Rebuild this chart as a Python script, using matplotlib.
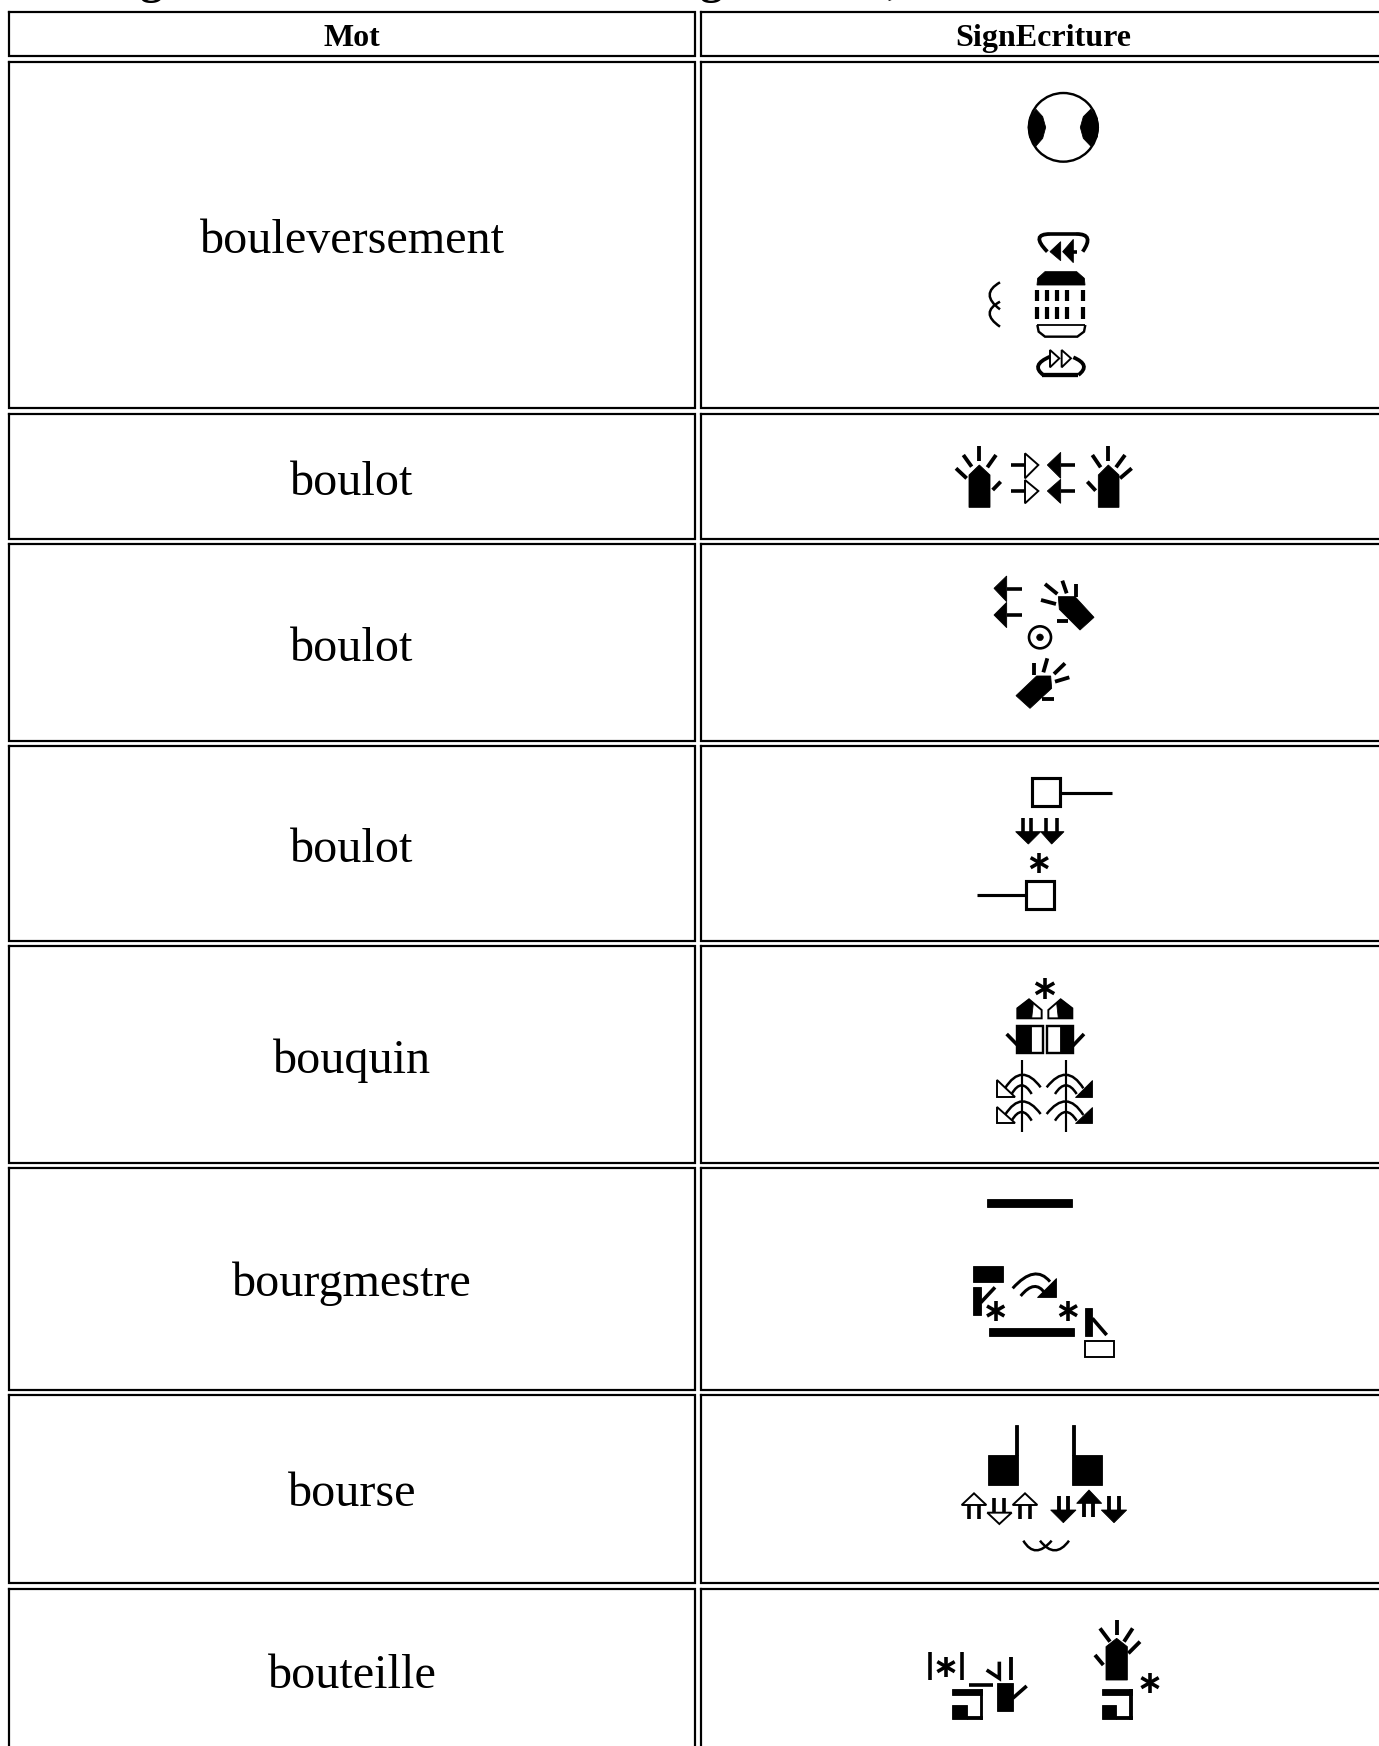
import matplotlib
matplotlib.use('Agg')
import numpy as np
import matplotlib.pyplot as plt
from matplotlib.patches import Polygon, Circle, PathPatch
from matplotlib.path import Path

W, H = 1379, 1746

# table
words = ['bouleversement', 'boulot', 'boulot', 'boulot', 'bouquin', 'bourgmestre', 'bourse', 'bouteille']
headers = ['Mot', 'SignEcriture']
row_tops = [12, 62, 414, 544, 746, 946, 1168, 1395, 1589]
row_bots = [56, 408, 539, 741, 941, 1163, 1390, 1583, 1760]
col_lefts = [9, 701]
col_rights = [695, 1400]
word_base = [253, 495, 661, 862, 1073, 1296, 1506, 1688]

fig = plt.figure(figsize=(W / 100, H / 100), dpi=100)
ax = fig.add_axes([0, 0, 1, 1])
ax.set_xlim(0, W)
ax.set_ylim(H, 0)
ax.axis('off')


# coordinates below are in zoomed crop units (3x) from origin o
def pts_px(o, pts):
    return [(o[0] + x / 3, o[1] + y / 3) for x, y in pts]


def line(o, pts, lw=3.2):
    p = pts_px(o, pts)
    ax.plot([a[0] for a in p], [a[1] for a in p], color='k', lw=lw * 0.72 * 1.2,
            solid_capstyle='butt', solid_joinstyle='miter')


def fill(o, pts):
    ax.add_patch(Polygon(pts_px(o, pts), closed=True, fc='k', ec='k', lw=0.6))


def hollow(o, pts, lw=1.6):
    ax.add_patch(Polygon(pts_px(o, pts), closed=True, fc='w', ec='k', lw=lw * 0.72 * 1.2))


def box(o, x0, y0, x1, y1, filled=True, lw=1.6):
    p = [(x0, y0), (x1, y0), (x1, y1), (x0, y1)]
    if filled:
        fill(o, p)
    else:
        hollow(o, p, lw)


def curve(o, a, c, b, lw=2.0):
    path = Path(pts_px(o, [a, c, b]), [Path.MOVETO, Path.CURVE3, Path.CURVE3])
    ax.add_patch(PathPatch(path, fc='none', ec='k', lw=lw * 0.72 * 1.25, capstyle='butt'))


def star(o, cx, cy, r=30, lw=3.0):
    for a in (90, 30, 150):
        dx = r * np.cos(np.radians(a))
        dy = r * np.sin(np.radians(a))
        line(o, [(cx - dx, cy - dy), (cx + dx, cy + dy)], lw)


def ring(o, cx, cy, r, lw=2.0, fc='w'):
    c = pts_px(o, [(cx, cy)])[0]
    ax.add_patch(Circle(c, r / 3, fc=fc, ec='k', lw=lw * 0.72 * 1.2))


def hand(o, body, fingers, lw=3.2):
    fill(o, body)
    for a, b in fingers:
        line(o, [a, b], lw)


# table grid and text
for j in range(2):
    for t, b in zip(row_tops, row_bots):
        l, r = col_lefts[j], col_rights[j]
        ax.plot([l, l, r, r, l], [t, b, b, t, t], color='k', lw=2.2 * 0.72,
                solid_joinstyle='miter', clip_on=True)

ax.text(352, 46, headers[0], family='Liberation Serif', weight='bold', size=32 * 0.72,
        ha='center', va='baseline', color='k')
ax.text(1043, 46, headers[1], family='Liberation Serif', weight='bold', size=32 * 0.72,
        ha='center', va='baseline', color='k')
for w, y in zip(words, word_base):
    ax.text(352, y, w, family='Liberation Serif', size=48.1 * 0.72, ha='center', va='baseline', color='k')

# bouleversement
o = (940, 70)
ring(o, 370, 172, 103, 2.0)
fill(o, [(288, 118), (268, 145), (264, 172), (268, 200), (288, 228), (308, 205), (317, 172), (308, 140)])
fill(o, [(452, 118), (472, 145), (476, 172), (472, 200), (452, 228), (430, 205), (421, 172), (430, 140)])
curve(o, (322, 545), (270, 492), (330, 492), 3)
line(o, [(330, 492), (410, 492)], 3)
curve(o, (410, 492), (465, 492), (428, 545), 3)
fill(o, [(330, 545), (362, 515), (362, 572)])
fill(o, [(368, 545), (400, 508), (400, 578)])
line(o, [(400, 545), (412, 545)], 3)
fill(o, [(291, 645), (293, 625), (315, 605), (410, 605), (433, 625), (435, 645)])
for x in (290, 320, 352, 382, 430):
    line(o, [(x, 660), (x, 692)], 3.5)
    line(o, [(x, 712), (x, 748)], 3.5)
line(o, [(291, 765), (436, 765)], 1.5)
line(o, [(292, 765), (296, 785), (315, 800), (412, 800), (432, 785), (436, 765)], 2)
curve(o, (180, 637), (118, 672), (180, 718), 2)
curve(o, (180, 695), (118, 728), (180, 770), 2)
hollow(o, [(330, 840), (358, 865), (330, 892)])
hollow(o, [(365, 840), (393, 865), (365, 892)])
curve(o, (330, 860), (270, 885), (310, 915), 3)
line(o, [(305, 915), (415, 915)], 3.6)
curve(o, (400, 862), (455, 885), (415, 915), 3)

# boulot 1
o = (930, 420)
hand(o, [(117, 262), (117, 165), (148, 135), (180, 165), (180, 262)],
     [((148, 78), (148, 122)), ((100, 105), (125, 140)), ((198, 105), (172, 142)),
      ((78, 145), (110, 175)), ((212, 185), (188, 210))])
line(o, [(243, 135), (285, 135)], 3)
hollow(o, [(285, 100), (325, 135), (285, 175)])
line(o, [(243, 213), (285, 213)], 3)
hollow(o, [(285, 180), (325, 213), (285, 250)])
fill(o, [(392, 97), (352, 135), (392, 175)])
line(o, [(392, 135), (435, 135)], 3)
fill(o, [(392, 178), (352, 213), (392, 250)])
line(o, [(392, 213), (435, 213)], 3)
hand(o, [(505, 262), (505, 165), (535, 135), (567, 165), (567, 262)],
     [((535, 78), (535, 122)), ((487, 105), (512, 142)), ((585, 105), (558, 142)),
      ((605, 145), (570, 175)), ((472, 185), (497, 212))])

# boulot 2
fill(o, [(230, 468), (192, 505), (230, 545)])
line(o, [(230, 507), (275, 507)], 3)
fill(o, [(230, 547), (192, 585), (230, 623)])
line(o, [(230, 585), (275, 585)], 3)
hand(o, [(385, 530), (435, 530), (492, 592), (450, 630), (388, 568)],
     [((345, 492), (382, 522)), ((397, 482), (410, 520)), ((438, 492), (438, 530)),
      ((333, 540), (378, 552)), ((380, 603), (415, 603))])
ring(o, 330, 652, 33, 2.2)
ring(o, 330, 652, 10, 0.5, 'k')
hand(o, [(258, 827), (320, 768), (362, 768), (365, 805), (300, 865)],
     [((312, 728), (312, 765)), ((352, 715), (340, 757)), ((405, 730), (372, 762)),
      ((418, 772), (375, 785)), ((335, 838), (372, 838))])

# boulot 3
o = (950, 760)
box(o, 245, 55, 330, 138, False, 2.6)
line(o, [(330, 100), (485, 100)], 2.6)
for x in (218, 243, 288, 320):
    line(o, [(x, 175), (x, 218)], 3)
fill(o, [(197, 215), (272, 215), (235, 252)])
fill(o, [(272, 215), (342, 215), (305, 252)])
star(o, 268, 308)
box(o, 228, 362, 313, 447, False, 2.6)
line(o, [(80, 406), (228, 406)], 2.6)

# bouquin
star(o, 285, 685, 32)
hollow(o, [(202, 775), (202, 745), (237, 718), (275, 750), (275, 775)], 1.6)
fill(o, [(202, 775), (202, 745), (237, 718), (250, 730), (245, 775)])
hollow(o, [(295, 775), (295, 750), (332, 718), (367, 745), (367, 775)], 1.6)
fill(o, [(325, 775), (320, 730), (332, 718), (367, 745), (367, 775)])
box(o, 200, 798, 278, 878, False, 2)
box(o, 200, 798, 242, 878)
box(o, 292, 798, 370, 878, False, 2)
box(o, 330, 798, 370, 878)
line(o, [(170, 822), (205, 858)], 3)
line(o, [(402, 822), (368, 858)], 3)
line(o, [(215, 900), (215, 1115)], 1.8)
line(o, [(348, 900), (348, 1115)], 1.8)
for dy in (0, 80):
    curve(o, (165, 985 + dy), (215, 905 + dy), (272, 982 + dy), 2)
    curve(o, (185, 1002 + dy), (215, 950 + dy), (245, 1002 + dy), 2)
    hollow(o, [(142, 960 + dy), (142, 1010 + dy), (195, 1010 + dy)])
    curve(o, (290, 982 + dy), (350, 905 + dy), (400, 985 + dy), 2)
    curve(o, (315, 1002 + dy), (348, 950 + dy), (380, 1002 + dy), 2)
    fill(o, [(425, 960 + dy), (425, 1010 + dy), (375, 1010 + dy)])

# bourgmestre
o = (950, 1180)
box(o, 112, 57, 367, 82)
box(o, 118, 443, 373, 468)
box(o, 70, 257, 160, 307)
box(o, 70, 322, 92, 405)
line(o, [(92, 368), (135, 322)], 3)
star(o, 137, 393)
star(o, 355, 392)
curve(o, (188, 325), (255, 250), (300, 305), 2.4)
curve(o, (212, 348), (255, 295), (285, 340), 2.4)
fill(o, [(318, 295), (318, 350), (262, 350)])
box(o, 405, 383, 427, 468)
line(o, [(427, 415), (470, 465)], 3)
box(o, 405, 482, 493, 530, False, 1.6)

# bourse
o = (920, 1390)
box(o, 205, 195, 295, 285)
box(o, 284, 105, 295, 195)
box(o, 455, 195, 545, 285)
box(o, 455, 105, 466, 195)
for cx in (162, 315):
    for x in (cx - 14, cx + 14):
        line(o, [(x, 345), (x, 388)], 3)
    hollow(o, [(cx - 37, 345), (cx, 310), (cx + 37, 345)])
for x in (222, 252):
    line(o, [(x, 325), (x, 368)], 3)
hollow(o, [(202, 368), (238, 402), (275, 368)])
for cx in (430, 582):
    for x in (cx - 14, cx + 14):
        line(o, [(x, 318), (x, 362)], 3.2)
    fill(o, [(cx - 38, 360), (cx, 398), (cx + 38, 360)])
for x in (492, 520):
    line(o, [(x, 340), (x, 382)], 3.2)
fill(o, [(470, 340), (507, 300), (545, 340)])
curve(o, (310, 452), (345, 510), (395, 452), 2)
curve(o, (360, 452), (405, 510), (447, 452), 2)

# bouteille
line(o, [(30, 785), (30, 870)], 3)
line(o, [(127, 785), (127, 870)], 3)
star(o, 78, 830)
line(o, [(148, 885), (220, 885)], 3)


def sleeve(o, x):
    box(o, x, 898, x + 90, 916)
    box(o, x, 945, x + 43, 988)
    box(o, x + 43, 978, x + 90, 988)
    box(o, x + 82, 898, x + 90, 988)


sleeve(o, 97)
box(o, 232, 880, 278, 962)
line(o, [(278, 925), (320, 888)], 3)
line(o, [(272, 800), (272, 870)], 3.2)
line(o, [(238, 815), (238, 865), (200, 840)], 3)
hand(o, [(558, 870), (558, 770), (590, 745), (622, 770), (622, 870)],
     [((590, 690), (590, 735)), ((540, 715), (570, 755)), ((638, 715), (612, 755)),
      ((660, 755), (625, 790)), ((525, 795), (550, 825))])
sleeve(o, 545)
star(o, 690, 878)

# title line, cut by the top of the page
for x, y, s in zip([151, 711, 893], [-7, -7, -6], ['g', 'g', ',']):
    ax.text(x, y, s, family='Liberation Serif', weight='bold', size=46 * 0.72,
            ha='center', va='baseline', color='k', clip_on=False)

fig.savefig('out.png', dpi=100, facecolor='w')
